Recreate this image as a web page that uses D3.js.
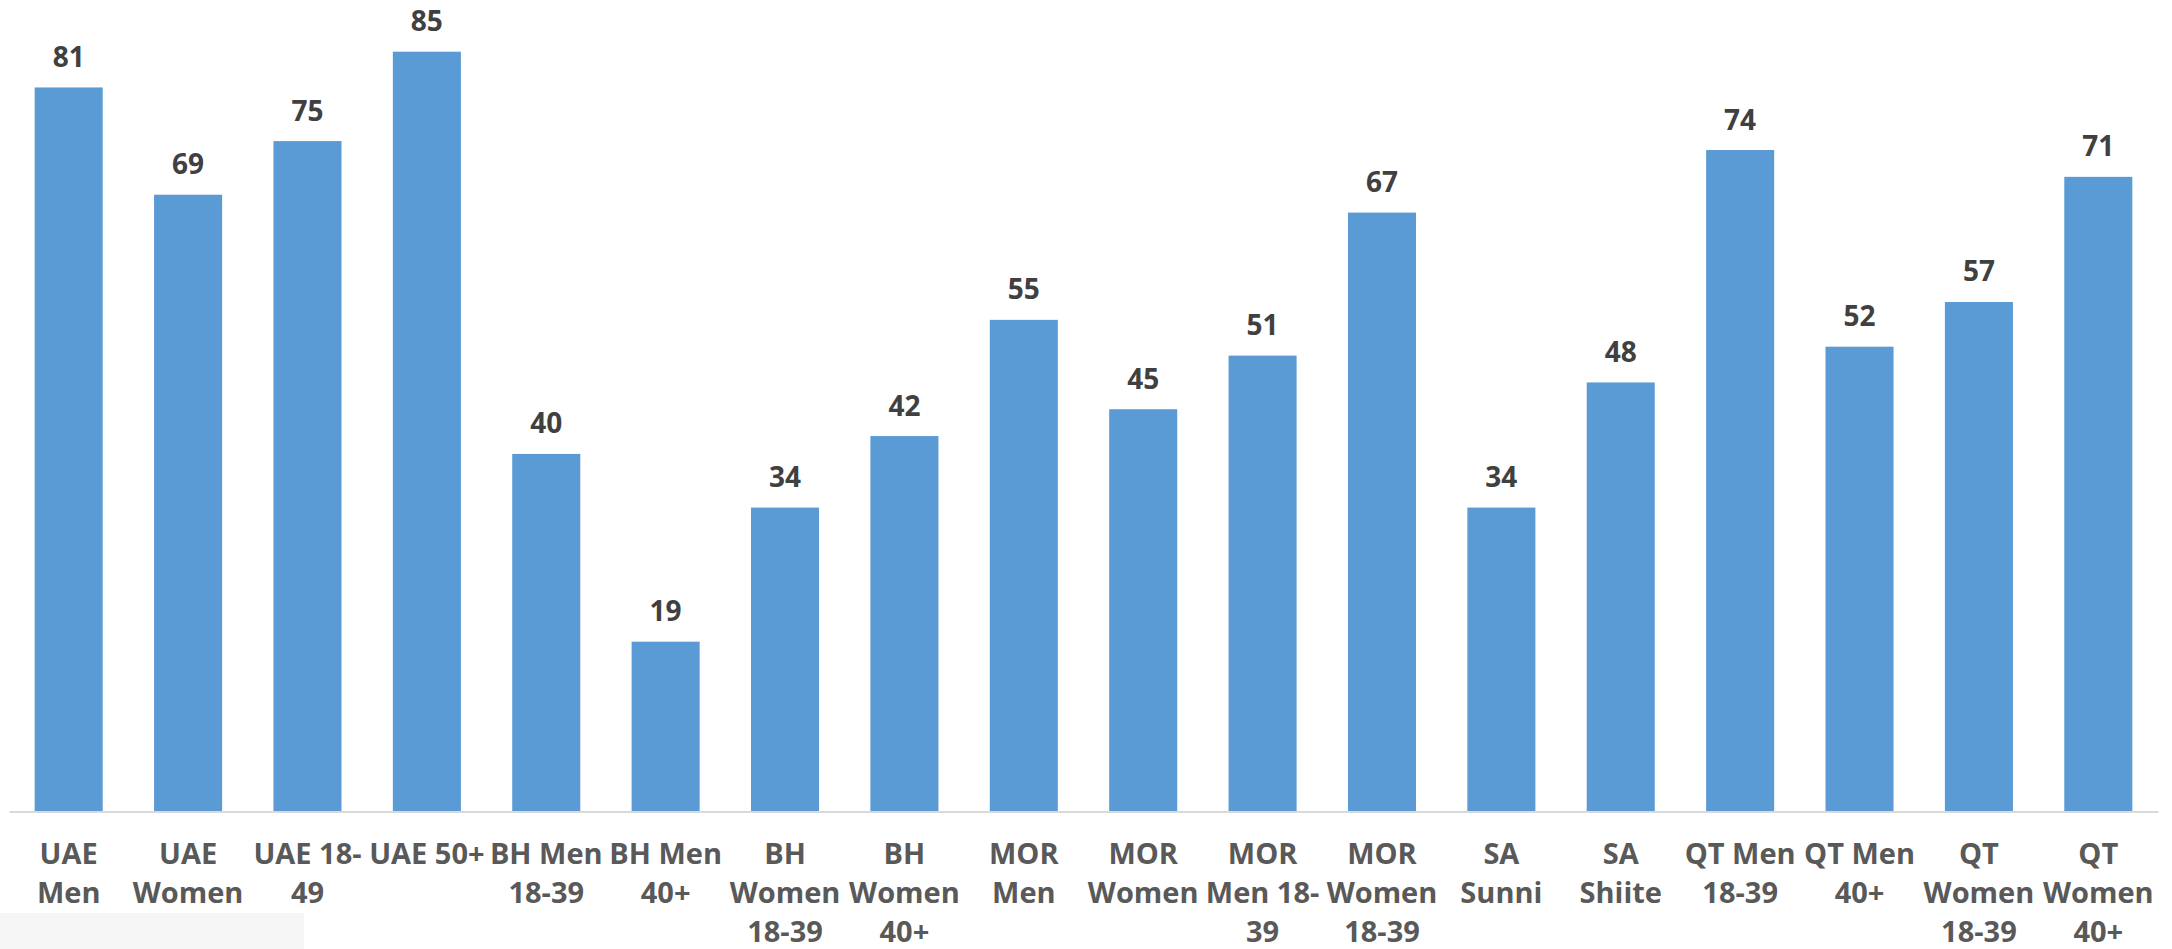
<!DOCTYPE html>
<html>
<head>
<meta charset="utf-8">
<script src="https://cdn.jsdelivr.net/npm/d3@7"></script>
<style>
  html, body { margin: 0; padding: 0; background: #fff; }
  svg { display: block; }
</style>
</head>
<body>
<div id="chart"></div>
<script>
// category labels, line breaks as in the original wrapping
var categories = [
  "UAE\nMen", "UAE\nWomen", "UAE 18-\n49", "UAE 50+",
  "BH Men\n18-39", "BH Men\n40+", "BH\nWomen\n18-39", "BH\nWomen\n40+",
  "MOR\nMen", "MOR\nWomen", "MOR\nMen 18-\n39", "MOR\nWomen\n18-39",
  "SA\nSunni", "SA\nShiite", "QT Men\n18-39", "QT Men\n40+",
  "QT\nWomen\n18-39", "QT\nWomen\n40+"
];
var values = [81, 69, 75, 85, 40, 19, 34, 42, 55, 45, 51, 67, 34, 48, 74, 52, 57, 71];
var yDomain = [0, 90];

var width = 2172, height = 949;
var margin = {top: 7, right: 14, bottom: 137.5, left: 9};

var svg = d3.select("#chart").append("svg")
  .attr("width", width)
  .attr("height", height);

// leftover grey strip at the bottom left
svg.append("rect")
  .attr("x", 0).attr("y", 913)
  .attr("width", 304).attr("height", height - 913)
  .attr("fill", "#f5f5f5");

var g = svg.append("g")
  .attr("transform", "translate(" + margin.left + "," + margin.top + ")");

var w = width - margin.left - margin.right;
var h = height - margin.top - margin.bottom;

var x = d3.scaleBand()
  .domain(categories)
  .range([0, w])
  .paddingInner(0.43)
  .paddingOuter(0.215);

var y = d3.scaleLinear()
  .domain(yDomain)
  .range([h, 0]);

g.selectAll("rect.bar")
  .data(values)
  .enter().append("rect")
  .attr("class", "bar")
  .attr("x", function(d, i) { return x(categories[i]); })
  .attr("y", function(d) { return y(d); })
  .attr("width", x.bandwidth())
  .attr("height", function(d) { return h - y(d); })
  .attr("fill", "#5b9bd5");

// value labels
g.selectAll("text.val")
  .data(values)
  .enter().append("text")
  .attr("class", "val")
  .attr("x", function(d, i) { return x(categories[i]) + x.bandwidth() / 2; })
  .attr("y", function(d) { return y(d) - 20.5; })
  .attr("text-anchor", "middle")
  .attr("font-family", "'Open Sans', sans-serif")
  .attr("font-weight", "bold")
  .attr("font-size", "28px")
  .attr("fill", "#404040")
  .text(function(d) { return d; });

// x axis
var xAxis = g.append("g")
  .attr("transform", "translate(0," + h + ")")
  .call(d3.axisBottom(x).tickSize(0).tickFormat(""));

xAxis.select(".domain")
  .attr("stroke", "#d9d9d9")
  .attr("stroke-width", 2);

xAxis.selectAll(".tick text").remove();

xAxis.selectAll(".tick").each(function(d) {
  var t = d3.select(this).append("text")
    .attr("text-anchor", "middle")
    .attr("font-family", "'Open Sans', sans-serif")
    .attr("font-weight", "bold")
    .attr("font-size", "29px")
    .attr("fill", "#595959");
  d.split("\n").forEach(function(line, k) {
    t.append("tspan")
      .attr("x", 0)
      .attr("y", 52 + k * 39)
      .text(line);
  });
});
</script>
</body>
</html>
